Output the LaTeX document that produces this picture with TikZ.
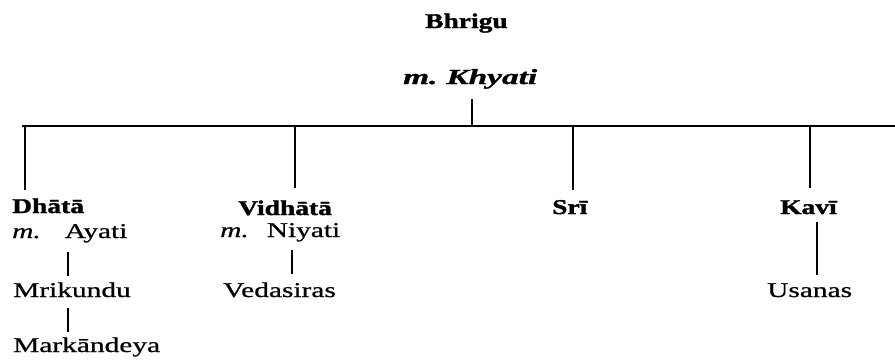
\documentclass[tikz,border=0pt]{standalone}
\usepackage{fontspec}
\newfontfamily\rmw{Liberation Serif}[FakeStretch=1.40, FakeBold=0.8]
\newfontfamily\bfw{Liberation Serif}[FakeStretch=1.31, FakeBold=1.5]
\newfontfamily\biw{Liberation Serif}[FakeStretch=1.55, FakeBold=1.5]
\tikzset{
  nm/.style={anchor=base west, inner sep=0pt, text height=12pt, text depth=0pt,
             font=\rmw\fontsize{21}{21}\selectfont},
  bnm/.style={nm, font=\bfw\bfseries\fontsize{21}{21}\selectfont},
  kin/.style={line width=2pt, line cap=butt},
}
\begin{document}
\begin{tikzpicture}[x=1pt,y=-1pt]
\useasboundingbox (0,0) rectangle (895,360);
% top
\node[bnm] (bhrigu) at (425,28) {Bhrigu};
\node[nm, font=\biw\bfseries\itshape\fontsize{21.5}{21.5}\selectfont] (khyati) at (403,84) {m.\hspace{9pt}Khyati};
% bar
\coordinate (barL) at (22,126);
\coordinate (barR) at (895,126);
\coordinate (kx) at (472,126);
\coordinate (c1) at (25,126);
\coordinate (c2) at (295,126);
\coordinate (c3) at (573,126);
\coordinate (c4) at (810,126);
\draw[kin] (barL) -- (barR);
\draw[kin] ([yshift=-15pt]khyati.south -| kx) -- (kx);
% children
\node[bnm] (dhata) at (12,213) {Dhātā};
\node[nm] (ayati) at (12,238) {{\itshape m.}\hspace{24pt}Ayati};
\node[nm] (mrik) at (13,297) {Mrikundu};
\node[nm] (mark) at (13,352) {Markāndeya};
\node[bnm] (vidh) at (238,215) {Vidhātā};
\node[nm] (niyati) at (220,237) {{\itshape m.}\hspace{18pt}Niyati};
\node[nm] (vedas) at (223,297) {Vedasiras};
\node[bnm] (sri) at (552,214) {Srī};
\node[bnm] (kavi) at (780,214) {Kavī};
\node[nm] (usanas) at (767,297) {Usanas};
% drops
\draw[kin] (c1) -- ([yshift=11pt]dhata.north -| c1);
\draw[kin] (c2) -- ([yshift=15pt]vidh.north -| c2);
\draw[kin] (c3) -- ([yshift=12pt]sri.north -| c3);
\draw[kin] (c4) -- ([yshift=14pt]kavi.north -| c4);
% descents
\draw[kin] ([xshift=56pt,yshift=-14pt]ayati.base west) -- ([xshift=55pt,yshift=9pt]mrik.north west);
\draw[kin] ([xshift=55pt,yshift=-11pt]mrik.base west) -- ([xshift=55pt,yshift=8pt]mark.north west);
\draw[kin] ([xshift=72pt,yshift=-13pt]niyati.base west) -- ([xshift=69pt,yshift=11pt]vedas.north west);
\draw[kin] ([xshift=37pt,yshift=-8pt]kavi.base west) -- ([xshift=50pt,yshift=10pt]usanas.north west);
\end{tikzpicture}
\end{document}
